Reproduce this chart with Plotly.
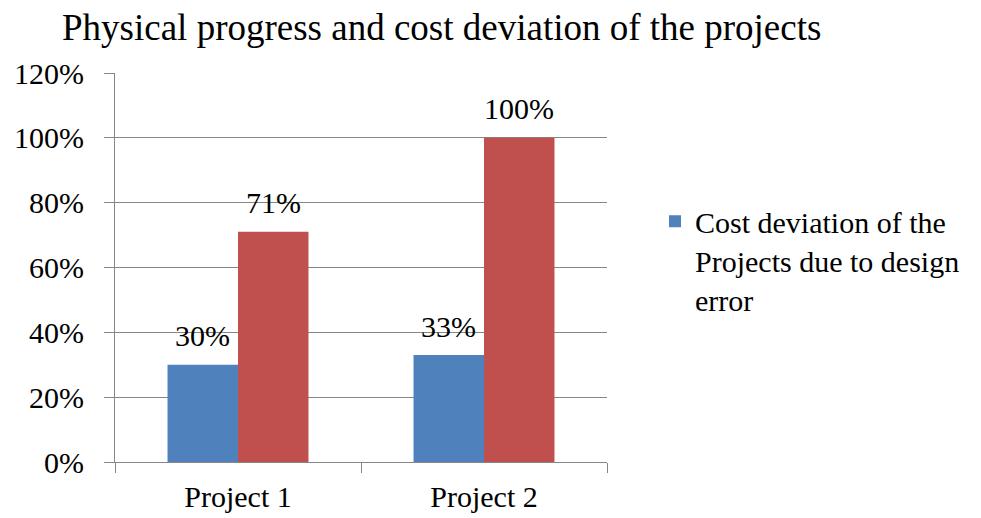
import plotly.graph_objects as go

categories = ["Project 1", "Project 2"]
cost_deviation = [0.30, 0.33]
physical_progress = [0.71, 1.00]
y_ticks = [0, 0.2, 0.4, 0.6, 0.8, 1.0, 1.2]

font_family = "Liberation Serif, Times New Roman, serif"

# the page body has an 8px margin, so the figure is drawn 8px smaller
W, H = 973, 510
BARGAP = 0.427
PLOT_W = W - 107 - 374

fig = go.Figure()

fig.add_trace(go.Bar(
    x=categories,
    y=cost_deviation,
    name="Cost deviation of the<br>Projects due to design<br>error",
    marker=dict(color="#4F81BD", line=dict(width=0)),
))

fig.add_trace(go.Bar(
    x=categories,
    y=physical_progress,
    name="Physical progress",
    marker=dict(color="#C0504D", line=dict(width=0)),
    showlegend=False,
))

# value labels above each bar, shifted to the bar centres
half_bar = PLOT_W / len(categories) * (1 - BARGAP) / 4
for values, side in [(cost_deviation, -1), (physical_progress, 1)]:
    for cat, v in zip(categories, values):
        fig.add_annotation(
            x=cat, y=v, text=f"{v:.0%}",
            xshift=side * half_bar, yshift=29,
            yanchor="middle", showarrow=False,
            font=dict(size=30, family=font_family, color="black"),
        )

fig.update_layout(
    width=W,
    height=H,
    barmode="group",
    bargap=BARGAP,
    bargroupgap=0,
    plot_bgcolor="white",
    paper_bgcolor="white",
    font=dict(family=font_family, size=30, color="black"),
    margin=dict(l=107, r=374, t=65, b=56),
    title=dict(
        text="Physical progress and cost deviation of the projects",
        x=54 / W, xanchor="left",
        y=1 - 19 / H, yanchor="middle",
        font=dict(size=37, family=font_family, color="black"),
    ),
    legend=dict(
        x=1.0976, xanchor="left",
        y=0.686, yanchor="top",
        valign="top",
        font=dict(size=30, family=font_family),
        itemwidth=30,
        tracegroupgap=0,
    ),
)

fig.update_xaxes(
    automargin=False,
    showgrid=False,
    showline=True,
    linecolor="#868686",
    linewidth=1,
    ticks="outside",
    tickson="boundaries",
    ticklen=10,
    tickcolor="#868686",
    tickfont=dict(size=30),
    ticklabelstandoff=8,
)

fig.update_yaxes(
    automargin=False,
    range=[0, 1.2],
    tickvals=y_ticks,
    tickformat=".0%",
    showgrid=True,
    gridcolor="#868686",
    gridwidth=1,
    showline=True,
    linecolor="#868686",
    linewidth=1,
    ticks="outside",
    ticklen=10,
    tickcolor="#868686",
    tickfont=dict(size=30),
    ticklabelstandoff=14,
    zeroline=False,
)

fig.write_html("out.html")
